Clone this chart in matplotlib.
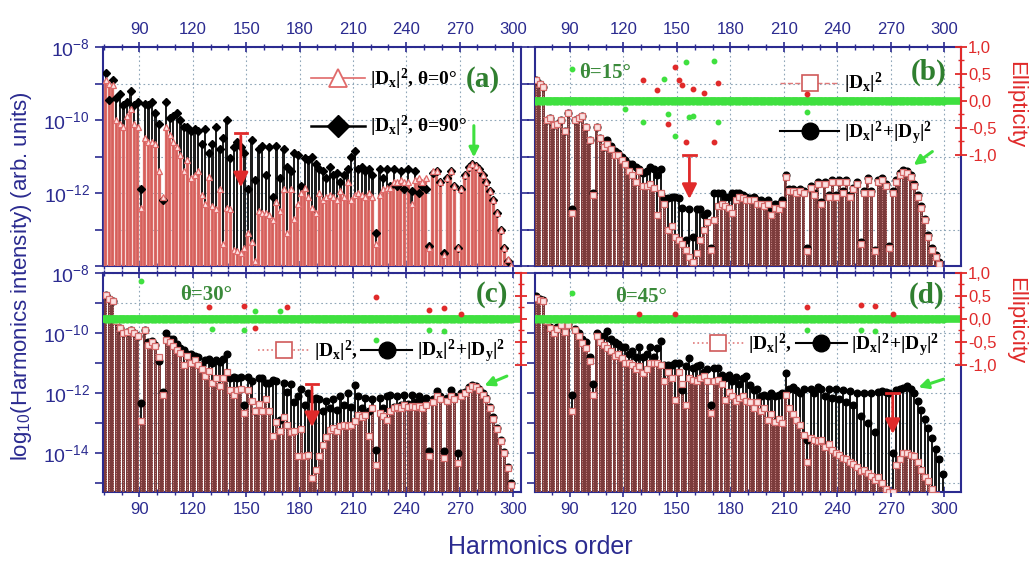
import numpy as np
import matplotlib.pyplot as plt
from matplotlib.lines import Line2D
from matplotlib.ticker import FixedLocator, LogLocator, NullFormatter, MultipleLocator

plt.rcParams['font.family'] = ['Liberation Sans', 'DejaVu Sans']
plt.rcParams['mathtext.fontset'] = 'custom'
plt.rcParams['mathtext.rm'] = 'Liberation Serif'
plt.rcParams['mathtext.bf'] = 'Liberation Serif:bold'
plt.rcParams['mathtext.it'] = 'Liberation Serif:italic'
plt.rcParams['mathtext.sf'] = 'Liberation Sans'

# harmonic orders (odd harmonics)
ORDERS = list(range(71, 300, 2))

# log10 of harmonic intensity, one value per odd harmonic 71..299
# (a) |Dx|^2 for theta = 0 and theta = 90
A_DX_0 = [
    -8.9, -9.0, -9.05, -10.0, -10.1, -10.2, -9.9, -9.7, -10.1, -10.2,
    -12.4, -10.5, -10.6, -10.6, -10.65, -11.4, -12.1, -10.2, -10.4, -10.6,
    -10.75, -10.95, -11.4, -11.1, -11.6, -11.5, -11.4, -12.05, -12.3, -11.55,
    -12.35, -12.45, -11.9, -13.4, -12.4, -12.45, -13.55, -13.6, -13.65, -13.5,
    -13.1, -13.35, -13.85, -12.5, -12.55, -12.55, -12.6, -12.75, -12.25, -12.5,
    -11.9, -13.1, -11.9, -12.7, -12.3, -12.0, -11.85, -12.1, -12.4, -12.55,
    -12.0, -12.2, -12.1, -12.05, -12.1, -12.2, -11.95, -12.1, -11.7, -12.2,
    -12.05, -12.0, -12.05, -12.1, -12.0, -12.1, -13.4, -12.05, -11.9, -11.85,
    -11.85, -11.7, -11.7, -11.65, -11.7, -11.7, -12.3, -11.65, -11.6, -11.7,
    -11.6, -13.5, -11.4, -11.4, -11.7, -13.7, -11.6, -11.4, -11.8, -13.5,
    -11.9, -11.5, -11.3, -11.2, -11.25, -11.35, -11.5, -11.7, -11.95, -12.2,
    -12.55, -13.0, -13.5, -13.8, -14.0,
]
A_DX_90 = [
    -8.7, -9.45, -8.9, -9.4, -9.3, -9.6, -9.5, -9.2, -9.6, -9.5,
    -11.9, -9.55, -9.6, -9.5, -9.8, -10.1, -12.2, -9.5, -9.95, -9.9,
    -9.8, -10.0, -10.2, -10.2, -10.3, -10.25, -10.3, -10.65, -10.25, -10.9,
    -10.65, -10.2, -10.8, -10.5, -10.0, -11.05, -10.75, -10.6, -10.75, -10.9,
    -11.9, -10.55, -11.65, -10.8, -10.7, -11.5, -10.75, -12.1, -10.7, -11.6,
    -10.8, -11.3, -11.4, -10.9, -10.95, -11.8, -11.05, -11.1, -11.0, -11.2,
    -11.35, -11.4, -11.6, -11.3, -11.5, -11.45, -11.7, -11.5, -11.35, -11.0,
    -10.85, -11.35, -11.3, -11.4, -11.35, -11.5, -13.1, -11.35, -11.6, -11.35,
    -11.8, -11.35, -11.8, -11.4, -11.9, -11.35, -11.95, -11.4, -12.0, -11.8,
    -11.9, -13.45, -11.45, -11.4, -11.7, -13.65, -11.6, -11.4, -11.8, -13.5,
    -11.9, -11.5, -11.3, -11.2, -11.25, -11.35, -11.5, -11.7, -11.95, -12.2,
    -12.55, -13.0, -13.5, -13.85, -14.1,
]

# (b) theta = 15: |Dx|^2 and |Dx|^2+|Dy|^2
B_DX = [
    -8.9, -9.0, -9.1, -10.0, -9.95, -10.15, -10.1, -10.0, -10.3, -9.8,
    -12.55, -10.0, -9.95, -9.9, -10.2, -10.55, -12.05, -10.2, -10.5, -10.75,
    -10.65, -10.8, -10.95, -10.95, -11.1, -11.2, -11.4, -11.5, -11.7, -11.4,
    -11.8, -11.8, -11.75, -11.85, -12.6, -12.0, -12.3, -13.0, -12.9, -13.2,
    -13.3, -13.4, -13.55, -13.75, -13.9, -13.65, -13.3, -13.0, -12.8, -13.55,
    -12.75, -12.35, -12.3, -12.35, -12.4, -12.55, -12.2, -12.1, -12.15, -12.2,
    -12.2, -12.2, -12.3, -12.3, -12.35, -12.3, -12.6, -12.4, -12.45, -12.3,
    -11.55, -11.95, -11.95, -12.0, -11.95, -12.0, -13.6, -11.85, -12.05, -11.75,
    -12.3, -11.75, -12.1, -11.7, -12.1, -11.7, -12.0, -11.7, -12.1, -11.9,
    -11.75, -13.4, -12.0, -11.65, -12.0, -13.6, -11.7, -11.65, -11.8, -13.5,
    -12.0, -11.7, -11.5, -11.42, -11.45, -11.55, -11.8, -12.1, -12.4, -12.75,
    -13.2, -13.55, -13.75, -13.95, -14.2,
]
B_SUM = [
    -8.9, -9.0, -9.1, -10.0, -9.95, -10.15, -10.1, -10.0, -10.3, -9.8,
    -12.45, -10.0, -9.95, -9.9, -10.2, -10.55, -12.0, -10.2, -10.5, -10.75,
    -10.55, -10.7, -10.85, -10.9, -11.0, -11.1, -11.2, -11.2, -11.3, -11.35,
    -11.45, -11.4, -11.3, -11.35, -11.5, -11.35, -12.15, -12.15, -12.1, -12.1,
    -12.15, -12.4, -13.3, -12.45, -13.2, -12.45, -12.45, -12.6, -12.55, -13.5,
    -12.0, -12.0, -12.0, -12.1, -12.1, -12.0, -12.0, -12.0, -12.05, -12.1,
    -12.15, -12.1, -12.2, -12.2, -12.25, -12.2, -12.4, -12.3, -12.3, -12.2,
    -11.5, -11.9, -11.9, -11.95, -11.9, -11.95, -13.5, -11.8, -12.0, -11.7,
    -12.25, -11.7, -12.05, -11.65, -12.05, -11.65, -11.95, -11.65, -12.05, -11.85,
    -11.7, -13.35, -11.95, -11.6, -11.95, -13.55, -11.65, -11.6, -11.75, -13.45,
    -11.95, -11.65, -11.45, -11.38, -11.4, -11.5, -11.75, -12.05, -12.35, -12.7,
    -13.15, -13.5, -13.7, -13.9, -14.2,
]

# (c) theta = 30
C_DX = [
    -8.72, -8.85, -8.94, -9.6, -9.83, -10.0, -9.95, -9.89, -10.0, -10.1,
    -12.94, -9.89, -10.39, -10.3, -10.44, -10.8, -12.05, -10.22, -10.3, -10.44,
    -10.55, -10.67, -11.06, -10.78, -11.0, -10.89, -11.06, -11.2, -11.44, -11.28,
    -11.67, -11.5, -11.78, -11.5, -11.3, -11.9, -12.05, -11.89, -11.85, -12.67,
    -11.9, -12.28, -12.61, -12.35, -12.6, -12.2, -12.6, -13.44, -12.95, -13.28,
    -12.8, -13.05, -13.3, -13.25, -14.11, -13.2, -14.1, -14.05, -14.83, -14.55,
    -14.1, -13.72, -13.45, -13.22, -13.17, -13.25, -13.1, -13.06, -13.1, -13.06,
    -12.94, -12.72, -12.8, -12.72, -13.44, -12.5, -14.39, -12.67, -12.75, -12.89,
    -12.6, -12.5, -12.45, -12.5, -12.39, -12.45, -12.44, -12.45, -12.44, -12.5,
    -12.4, -14.11, -12.3, -12.11, -12.2, -14.17, -12.28, -12.11, -12.2, -14.33,
    -12.11, -12.0, -11.85, -11.78, -11.8, -11.9, -12.05, -12.2, -12.5, -12.85,
    -13.2, -13.6, -14.0, -14.5, -15.06,
]
C_SUM = [
    -8.72, -8.85, -8.94, -9.6, -9.83, -10.0, -9.95, -9.89, -10.0, -10.1,
    -12.33, -9.89, -10.3, -10.25, -10.4, -10.94, -11.95, -10.0, -10.2, -10.2,
    -10.35, -10.5, -10.55, -10.7, -10.7, -10.75, -10.8, -11.05, -10.9, -10.85,
    -11.0, -10.9, -10.95, -10.85, -10.7, -11.5, -11.45, -11.5, -11.45, -12.39,
    -11.45, -11.6, -12.6, -11.5, -11.5, -11.65, -11.65, -11.55, -11.6, -12.9,
    -11.67, -11.95, -11.7, -12.3, -12.1, -11.85, -12.4, -12.0, -12.2, -12.17,
    -12.2, -12.6, -12.25, -12.5, -12.2, -12.55, -12.1, -12.4, -12.0, -12.45,
    -11.72, -12.1, -12.5, -12.15, -12.6, -12.2, -13.89, -12.15, -12.5, -12.1,
    -12.06, -12.45, -12.1, -12.4, -12.05, -12.35, -12.05, -12.3, -12.1, -12.25,
    -12.15, -13.94, -12.2, -11.94, -12.1, -13.94, -12.15, -11.89, -12.1, -14.0,
    -12.0, -11.95, -11.8, -11.72, -11.75, -11.85, -12.0, -12.15, -12.45, -12.8,
    -13.15, -13.55, -13.95, -14.45, -15.0,
]

# (d) theta = 45
D_DX = [
    -8.83, -8.9, -8.94, -9.6, -9.83, -10.0, -9.85, -9.72, -9.95, -9.72,
    -12.61, -9.89, -10.1, -10.33, -10.5, -10.94, -12.05, -10.11, -10.3, -10.4,
    -10.5, -10.6, -10.78, -10.7, -10.83, -11.0, -11.0, -11.06, -11.2, -11.1,
    -11.33, -11.2, -11.0, -11.0, -11.0, -11.05, -11.61, -11.3, -11.5, -12.22,
    -11.3, -11.7, -12.39, -11.5, -11.55, -11.6, -11.5, -11.44, -11.6, -12.67,
    -11.6, -11.55, -11.7, -12.22, -11.95, -12.1, -12.25, -12.15, -12.1, -12.25,
    -12.3, -12.5, -12.3, -12.6, -12.5, -12.9, -12.7, -12.95, -12.85, -13.0,
    -12.05, -12.5, -12.7, -12.9, -13.05, -13.4, -14.3, -13.5, -13.55, -13.6,
    -13.55, -13.8, -13.7, -13.9, -14.0, -14.05, -14.15, -14.2, -14.3, -14.35,
    -14.45, -14.6, -14.55, -14.65, -14.75, -14.9, -14.8, -15.0, -15.2, -15.3,
    -15.3, -14.4, -14.2, -14.0, -14.0, -14.05, -14.11, -14.3, -14.55, -14.8,
    -14.94, -15.2, -15.4, -15.5, -15.5,
]
D_SUM = [
    -8.75, -8.85, -8.9, -9.55, -9.8, -9.95, -9.8, -9.7, -9.9, -9.7,
    -12.05, -9.85, -10.0, -10.2, -10.3, -10.8, -11.7, -10.0, -10.1, -10.1,
    -9.94, -10.2, -10.3, -10.35, -10.45, -10.45, -10.7, -10.6, -10.8, -10.45,
    -10.8, -10.7, -10.45, -10.8, -10.5, -10.28, -11.05, -11.05, -11.05, -11.0,
    -11.0, -11.9, -11.1, -10.83, -11.15, -11.1, -11.05, -11.3, -11.2, -12.39,
    -11.15, -11.15, -11.4, -11.5, -11.4, -11.6, -11.45, -11.7, -11.5, -11.44,
    -11.72, -11.9, -11.85, -12.1, -12.05, -12.1, -12.0, -12.1, -12.05, -12.0,
    -11.33, -11.85, -11.8, -11.9, -12.0, -11.85, -13.57, -11.85, -12.0, -11.8,
    -11.85, -12.1, -11.85, -12.15, -11.85, -12.2, -11.9, -12.3, -11.94, -12.4,
    -12.0, -12.75, -12.0, -13.0, -12.0, -13.3, -11.97, -11.94, -11.95, -12.0,
    -14.0, -11.9, -11.85, -11.83, -11.78, -11.85, -12.0, -12.25, -12.55, -12.85,
    -13.15, -13.5, -13.85, -14.2, -14.7,
]

# ellipticity: harmonics that stand out from the zero band
B_ELL_RED_H = [131, 139, 145, 149, 151, 153, 155, 159, 165, 171, 173, 223]
B_ELL_RED = [0.38, 0.2, -0.43, 0.63, 0.38, 0.3, -0.77, 0.22, 0.15, -0.77, 0.33, 0.13]
B_ELL_GREEN_H = [91, 121, 131, 143, 145, 149, 155, 157, 159, 171, 173, 223]
B_ELL_GREEN = [0.6, -0.15, -0.4, 0.41, -0.25, -0.65, 0.72, -0.3, -0.28, 0.74, -0.4, -0.2]
C_ELL_RED_H = [129, 149, 155, 173, 223, 253, 261, 271]
C_ELL_RED = [0.25, 0.29, -0.2, 0.26, 0.47, 0.2, 0.23, 0.1]
C_ELL_GREEN_H = [91, 131, 149, 155, 169, 223, 253, 261]
C_ELL_GREEN = [0.83, -0.22, -0.24, 0.18, 0.17, -0.47, -0.25, -0.27]
D_ELL_RED_H = [129, 149, 223, 253, 261, 271]
D_ELL_RED = [0.1, 0.1, 0.25, 0.3, 0.27, 0.1]
D_ELL_GREEN_H = [91, 223, 253, 261]
D_ELL_GREEN = [0.57, -0.25, -0.25, -0.26]

# annotation arrows (harmonic, log10 intensity) for panels a, b, c, d
RED_ARROW_H = [147, 157, 187, 271]
RED_ARROW_TOP = [-10.36, -10.96, -11.7, -12.01]
RED_ARROW_TIP = [-11.92, -12.24, -13.23, -13.46]
GREEN_ARROW_FROM = [(278, -10.08), (294.5, -10.82), (298, -11.4), (301, -11.51)]
GREEN_ARROW_TO = [(278, -11.1), (281.5, -11.28), (282.5, -11.79), (284, -11.84)]

NAVY = '#2b2b90'
RED = '#e02a2a'
GREEN = '#3fe03f'
TAG_GREEN = '#2f7f2f'
BOT = 1e-16
SERIF = dict(family='Liberation Serif', weight='bold', size=14)

fig = plt.figure(figsize=(10.29, 5.69), dpi=100)
W, H = 1029.0, 569.0


def make_axes(left, top, width, height):
    return fig.add_axes([left / W, 1 - (top + height) / H, width / W, height / H])


ax_a = make_axes(103, 47, 418, 219)
ax_b = make_axes(535, 47, 426, 219)
ax_c = make_axes(103, 273, 418, 219)
ax_d = make_axes(535, 273, 426, 219)


def style_axes(ax, xlim, low_exp, ylabels, top_labels, right_ticks=False):
    ax.set_yscale('log')
    ax.set_xlim(*xlim)
    ax.set_ylim(10.0 ** low_exp, 1e-8)
    for s in ax.spines.values():
        s.set_color(NAVY)
        s.set_linewidth(1.5)
    ax.xaxis.set_major_locator(MultipleLocator(30))
    ax.xaxis.set_minor_locator(MultipleLocator(10))
    ax.tick_params(axis='x', which='both', top=True, bottom=True, direction='inout',
                   colors=NAVY, labelsize=12, labeltop=top_labels,
                   labelbottom=not top_labels)
    ax.tick_params(axis='x', which='major', length=7, width=1.2)
    ax.tick_params(axis='x', which='minor', length=4, width=1.0)
    decades = [10.0 ** e for e in range(-8, int(np.floor(low_exp)) - 1, -1)]
    ax.yaxis.set_major_locator(FixedLocator(decades))
    ax.set_yticklabels(ylabels + [''] * (len(decades) - len(ylabels)))
    ax.yaxis.set_minor_locator(LogLocator(base=10, subs=np.arange(2, 10)))
    ax.yaxis.set_minor_formatter(NullFormatter())
    ax.tick_params(axis='y', which='both', direction='out', colors=NAVY,
                   labelsize=14, right=right_ticks)
    ax.tick_params(axis='y', which='major', length=6, width=1.2)
    ax.tick_params(axis='y', which='minor', length=3, width=0.8)
    ax.grid(True, which='major', color='#8fa6b8', ls=(0, (1.5, 2.5)), lw=0.8)
    ax.set_axisbelow(True)


def draw_panel_a(ax):
    up = 10.0 ** np.array(A_DX_90)
    lo = 10.0 ** np.array(A_DX_0)
    ax.bar(ORDERS, up - BOT, bottom=BOT, width=1.3, color='#1e1e1e', zorder=2)
    ax.bar(ORDERS, lo - BOT, bottom=BOT, width=1.7, color='#d6605c',
           edgecolor='#eea09c', linewidth=0.3, zorder=3)
    ax.plot(ORDERS, up, 'D', color='black', ms=4.5, zorder=4)
    ax.plot(ORDERS, lo, '^', mfc='#fde4e4', mec='#e06a6a', mew=0.9, ms=4.8, zorder=5)


def draw_panel(ax, dx, total):
    up = 10.0 ** np.array(total)
    lo = 10.0 ** np.array(dx)
    ax.bar(ORDERS, up - BOT, bottom=BOT, width=1.2, color='#1b1b1b', zorder=2)
    ax.bar(ORDERS, lo - BOT, bottom=BOT, width=1.7, color='#7c3c3c', zorder=3)
    ax.vlines(ORDERS, BOT, lo, colors='#e7a4a4', linestyles=(0, (1, 1.8)), lw=0.6, zorder=3.5)
    ax.plot(ORDERS, up, 'o', color='black', ms=4.8, zorder=4)
    ax.plot(ORDERS, lo, 's', mfc='#fbe2e2', mec='#d46a6a', mew=0.9, ms=4.0, zorder=5)


def draw_ellipticity(ax, ylim, red_h, red_e, green_h, green_e, labels):
    ax2 = ax.twinx()
    ax2.set_ylim(*ylim)
    ax2.plot(ORDERS, np.zeros(len(ORDERS)), 'o', color=RED, ms=3, zorder=1)
    ax2.axhline(0, color=GREEN, lw=5.5, zorder=2)
    ax2.plot(ORDERS, np.zeros(len(ORDERS)), 'o', color=GREEN, ms=5, zorder=2)
    ax2.plot(red_h, red_e, 'o', color=RED, ms=3.2, zorder=4)
    ax2.plot(green_h, green_e, 'o', color=GREEN, ms=3.2, zorder=4)
    for side in ['top', 'bottom', 'left']:
        ax2.spines[side].set_visible(False)
    ax2.spines['right'].set_color(RED)
    ax2.spines['right'].set_linewidth(1.5)
    ax2.spines['right'].set_bounds(-1, 1)
    ax2.yaxis.set_major_locator(FixedLocator([-1, -0.5, 0, 0.5, 1]))
    ax2.yaxis.set_minor_locator(FixedLocator([-0.75, -0.25, 0.25, 0.75]))
    ax2.set_yticklabels(['-1,0', '-0,5', '0,0', '0,5', '1,0'] if labels else [''] * 5)
    ax2.tick_params(axis='y', which='both', direction='inout', colors=RED, labelsize=12,
                    pad=1)
    ax2.tick_params(axis='y', which='major', length=8, width=1.3)
    ax2.tick_params(axis='y', which='minor', length=5, width=1.0)
    return ax2


def draw_arrows(ax, i):
    h = RED_ARROW_H[i]
    top = 10.0 ** RED_ARROW_TOP[i]
    ax.plot([h - 3.5, h + 3.5], [top, top], color=RED, lw=2, zorder=8)
    ax.annotate('', xy=(h, 10.0 ** RED_ARROW_TIP[i]), xytext=(h, top),
                arrowprops=dict(arrowstyle='-|>', color=RED, lw=2, mutation_scale=22),
                zorder=8)
    (x0, y0), (x1, y1) = GREEN_ARROW_FROM[i], GREEN_ARROW_TO[i]
    ax.annotate('', xy=(x1, 10.0 ** y1), xytext=(x0, 10.0 ** y0),
                arrowprops=dict(arrowstyle='-|>', color=GREEN, lw=2.2, mutation_scale=14),
                zorder=8)


ylab_ab = [r'$\mathsf{10^{-8}}$', '', r'$\mathsf{10^{-10}}$', '', r'$\mathsf{10^{-12}}$']
ylab_cd = ylab_ab + ['', r'$\mathsf{10^{-14}}$']

style_axes(ax_a, (69.5, 304.5), -14, ylab_ab, True, right_ticks=True)
style_axes(ax_b, (70.4, 309.3), -14, [], True)
style_axes(ax_c, (69.5, 304.5), -15.3, ylab_cd, False)
style_axes(ax_d, (70.4, 309.3), -15.3, [], False)

draw_panel_a(ax_a)
draw_panel(ax_b, B_DX, B_SUM)
draw_panel(ax_c, C_DX, C_SUM)
draw_panel(ax_d, D_DX, D_SUM)

draw_ellipticity(ax_b, (-3.07, 1.0), B_ELL_RED_H, B_ELL_RED, B_ELL_GREEN_H, B_ELL_GREEN, True)
draw_ellipticity(ax_c, (-3.78, 1.0), C_ELL_RED_H, C_ELL_RED, C_ELL_GREEN_H, C_ELL_GREEN, False)
draw_ellipticity(ax_d, (-3.78, 1.0), D_ELL_RED_H, D_ELL_RED, D_ELL_GREEN_H, D_ELL_GREEN, True)

for i, ax in enumerate([ax_a, ax_b, ax_c, ax_d]):
    draw_arrows(ax, i)

# legends
dx_label = r'$\mathbf{|D_x|^2}$'
sum_label = r'$\mathbf{|D_x|^2\!+\!|D_y|^2}$'
h_tri = Line2D([0], [0], color='#e06a6a', lw=1.2, marker='^', ms=13, mfc='white',
               mec='#e06a6a', mew=1.3)
h_dia = Line2D([0], [0], color='black', lw=1.8, marker='D', ms=11, mfc='black')
h_sq_dash = Line2D([0], [0], color='#e07a7a', lw=1.0, ls='--', marker='s', ms=12,
                   mfc='white', mec='#d05a5a', mew=1.2)
h_sq_dot = Line2D([0], [0], color='#e07a7a', lw=1.2, ls=':', marker='s', ms=12,
                  mfc='white', mec='#d05a5a', mew=1.2)
h_circ = Line2D([0], [0], color='black', lw=1.5, marker='o', ms=12, mfc='black')

ax_a.legend([h_tri, h_dia], [dx_label + ', θ=0°', dx_label + ', θ=90°'],
            loc='upper left', bbox_to_anchor=(0.455, 0.99), frameon=False,
            prop=SERIF, handlelength=2.8, handletextpad=0.25,
            labelspacing=1.15).set_zorder(10)
ax_b.legend([h_sq_dash, h_circ], [dx_label, sum_label], loc='upper left',
            bbox_to_anchor=(0.535, 0.97), frameon=False, prop=SERIF, handlelength=3.0,
            handletextpad=0.25, labelspacing=1.2).set_zorder(10)
for ax, yy in [(ax_c, 0.64), (ax_d, 0.67)]:
    ax.legend([h_sq_dot, h_circ], [dx_label + ',', sum_label], loc='center left',
              bbox_to_anchor=(0.33, yy), frameon=False, prop=SERIF, ncol=2,
              handlelength=2.6, handletextpad=0.25, columnspacing=0.2).set_zorder(10)

# panel tags and angles
for ax, tag, x, y in [(ax_a, '(a)', 0.909, 0.85), (ax_b, '(b)', 0.925, 0.886),
                      (ax_c, '(c)', 0.93, 0.9), (ax_d, '(d)', 0.92, 0.9)]:
    ax.text(x, y, tag, transform=ax.transAxes, ha='center', va='center', color=TAG_GREEN,
            family='Liberation Serif', weight='bold', size=21, zorder=12)
for ax, txt, x, y in [(ax_b, 'θ=15°', 0.165, 0.88), (ax_c, 'θ=30°', 0.246, 0.9),
                      (ax_d, 'θ=45°', 0.249, 0.89)]:
    ax.text(x, y, txt, transform=ax.transAxes, ha='center', va='center', color='#3a8a3a',
            family='Liberation Serif', weight='bold', size=15, zorder=12)

fig.text(0.021, 0.515, r'$\mathsf{log_{10}}$(Harmonics intensity) (arb. units)',
         rotation=90, ha='center', va='center', color=NAVY, size=16)
fig.text(540 / W, 1 - 547 / H, 'Harmonics order', ha='center', va='center',
         color=NAVY, size=18)
fig.text(1016 / W, 1 - 105 / H, 'Ellipticity', rotation=270, ha='center', va='center',
         color=RED, size=16)
fig.text(1016 / W, 1 - 321 / H, 'Ellipticity', rotation=270, ha='center', va='center',
         color=RED, size=16)

fig.savefig('out.png', dpi=100)
